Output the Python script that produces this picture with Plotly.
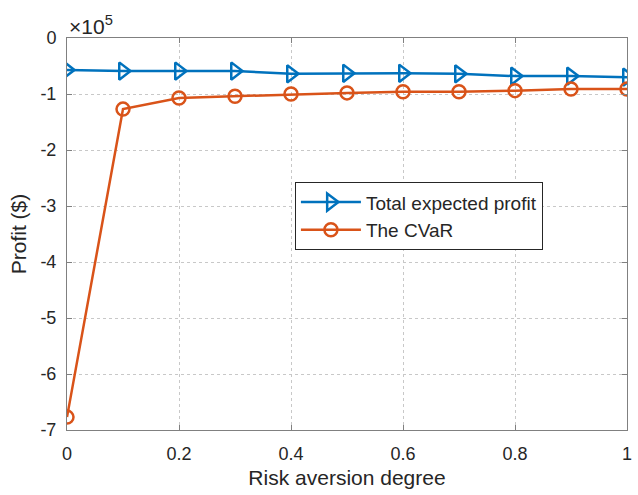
import plotly.graph_objects as go

risk = [0, 0.1, 0.2, 0.3, 0.4, 0.5, 0.6, 0.7, 0.8, 0.9, 1.0]
# values in units of 1e5 $
total_profit = [-0.57, -0.59, -0.59, -0.59, -0.64, -0.63, -0.63, -0.64, -0.68, -0.68, -0.70]
cvar = [-6.77, -1.27, -1.07, -1.04, -1.0, -0.98, -0.96, -0.96, -0.94, -0.91, -0.91]
x_ticks = [0, 0.2, 0.4, 0.6, 0.8, 1]
x_ticklabels = ["0", "0.2", "0.4", "0.6", "0.8", "1"]
y_ticks = [0, -1, -2, -3, -4, -5, -6, -7]
y_ticklabels = ["0", "-1", "-2", "-3", "-4", "-5", "-6", "-7"]

blue = "#0072BD"
orange = "#D95319"
txt = "#262626"
font_family = "Liberation Sans, Arial, sans-serif"

fig = go.Figure()
fig.add_trace(go.Scatter(
    x=risk, y=total_profit, mode="lines+markers", name="Total expected profit",
    line=dict(color=blue, width=2.5),
    marker=dict(symbol="triangle-right-open", size=15, color=blue, line=dict(width=2.5, color=blue)),
))
fig.add_trace(go.Scatter(
    x=risk, y=cvar, mode="lines+markers", name="The CVaR",
    line=dict(color=orange, width=2.5),
    marker=dict(symbol="circle-open", size=13, color=orange, line=dict(width=2.5, color=orange)),
))

axis_common = dict(
    showline=True, linecolor="#808080", linewidth=1, mirror="allticks",
    ticks="inside", ticklen=5, tickcolor="#808080",
    showgrid=True, gridcolor="#c8c8c8", griddash="dot", gridwidth=1,
    zeroline=False,
    tickfont=dict(size=18, color=txt, family=font_family),
)

fig.update_xaxes(
    range=[0, 1], tickvals=x_ticks, ticktext=x_ticklabels,
    title=dict(text="Risk aversion degree", font=dict(size=21, color=txt, family=font_family), standoff=7),
    ticklabelstandoff=7,
    **axis_common,
)
fig.update_yaxes(
    range=[-7, 0], tickvals=y_ticks, ticktext=y_ticklabels,
    title=dict(text="Profit ($)", font=dict(size=21, color=txt, family=font_family), standoff=8),
    ticklabelstandoff=6,
    **axis_common,
)

fig.add_annotation(
    xref="paper", yref="paper", x=0.0, y=1.0, xanchor="left", yanchor="bottom",
    text="×10<sup>5</sup>", showarrow=False, xshift=0, yshift=-2,
    font=dict(size=21, color=txt, family=font_family),
)

fig.update_layout(
    width=638, height=495,
    margin=dict(l=67, r=6, t=38, b=65),
    paper_bgcolor="white", plot_bgcolor="white",
    font=dict(family=font_family, color=txt),
    legend=dict(
        x=0.407, y=0.632, xanchor="left", yanchor="top",
        bgcolor="white", bordercolor="#262626", borderwidth=1,
        font=dict(size=19, color=txt, family=font_family),
        itemwidth=60, tracegroupgap=0,
    ),
)

fig.write_html("out.html")
